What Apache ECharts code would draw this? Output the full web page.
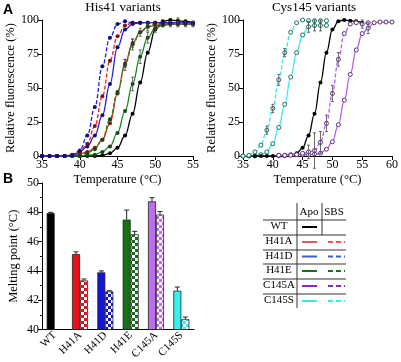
<!DOCTYPE html>
<html>
<head>
<meta charset="utf-8">
<script src="https://cdn.jsdelivr.net/npm/echarts@6/dist/echarts.min.js"></script>
<style>
  html, body { margin: 0; padding: 0; background: #fff; }
  #chart { width: 401px; height: 362px; }
</style>
</head>
<body>
<div id="chart"></div>
<script>
// temperatures (°C)
var tempsHis = [35, 36, 37, 38, 39, 40, 41, 42, 43, 44, 45, 46, 47, 48, 49, 50, 51, 52, 53, 54, 55];
var tempsCys = [35, 36, 37, 38, 39, 40, 41, 42, 43, 44, 45, 46, 47, 48, 49, 50, 51, 52, 53, 54, 55, 56, 57, 58, 59, 60];

// relative fluorescence (%) - His41 panel
var wtCurve = [0, 0, 0, 0, 0, 0, 0, 0, 0.5, 2, 6, 15, 31, 54, 76, 93, 99, 100, 99.5, 99, 98];
var h41aApo = [0, 0, 0, 0, 0.5, 1.5, 3, 6, 12, 24, 46, 68, 83, 91, 95, 96, 97, 97, 97, 97, 97];
var h41aSbs = [0, 0, 0, 0, 1, 3, 9, 22, 44, 70, 88, 96, 98, 98, 98, 98, 98, 98, 98, 98, 98];
var h41dApo = [0, 0, 0, 0, 0.5, 3, 7, 15, 30, 53, 80, 93, 97, 98, 98, 98, 98, 98, 98, 98, 98];
var h41dSbs = [0, 0, 0, 0, 0.5, 4, 15, 36, 66, 87, 97, 99, 98, 98, 98, 98, 98, 98, 98, 98, 98];
var h41eApo = [0, 0, 0, 0, 0, 0, 0.5, 1, 3, 7, 17, 33, 53, 73, 87, 94, 96, 97, 97, 97, 97];
var h41eSbs = [0, 0, 0, 0, 0, 0.5, 2, 5, 12, 27, 47, 67, 82, 91, 95, 97, 97, 97, 97, 97, 97];

// relative fluorescence (%) - Cys145 panel
var wtCurveCys = [0, 0, 0, 0, 0, 0, 0, 0, 0.5, 2, 6, 15, 31, 54, 76, 93, 99, 100, 99.5, 99, 98, null, null, null, null, null];
var c145aApo = [null, null, null, null, null, null, 0.5, 0.5, 1, 1, 1, 1, 1.5, 2, 5, 10.5, 23, 41, 60, 78, 90, 94, 98, 98.5, 98.5, 98.5];
var c145aSbs = [null, null, null, null, null, null, 0.5, 0.5, 0.5, 1, 2, 3, 4, 10, 24, 46, 71, 90, 97, 98, 97, 98, null, null, null, null];
var c145sApo = [0, 0, 0, 1, 3, 9, 21, 38, 58, 76, 89, 95, 96, 96, 96, null, null, null, null, null, null, null, null, null, null, null];
var c145sSbs = [0, 0.5, 3, 8, 19, 35, 56, 76, 91, 98, 100, 99.5, 99.5, 99.5, 99.5, null, null, null, null, null, null, null, null, null, null, null];

// error bars on the melting curves: [temperature, value, sd]
var errHis = [[46, 67, 4], [47, 82, 4], [48, 91, 3], [49, 95, 3], [47, 53, 5], [48, 73, 5], [49, 87, 4],
  [50, 94, 3], [46, 68, 3], [47, 83, 3], [52, 97, 2], [53, 97, 2], [54, 97, 2], [55, 97, 2], [53, 99.5, 2]];
var errCys = [[39, 19, 3], [40, 35, 3], [41, 56, 4], [42, 76, 3], [46, 95, 4], [47, 96, 4], [48, 96, 4],
  [46, 3, 5], [47, 4, 13], [48, 10, 8], [49, 24, 6], [50, 46, 6], [51, 71, 5], [55, 97, 3], [56, 94, 4]];

// melting points (°C)
var variants = ['WT', 'H41A', 'H41D', 'H41E', 'C145A', 'C145S'];
var tmApo = [47.95, 45.15, 43.9, 47.5, 48.75, 42.65];
var tmApoErr = [0.05, 0.15, 0.1, 0.65, 0.25, 0.25];
var tmSbs = [null, 43.35, 42.6, 46.5, 47.85, 40.7];
var tmSbsErr = [0, 0.1, 0.05, 0.2, 0.2, 0.15];

var barColors = ['#000000', '#e8111a', '#1414d6', '#137313', '#bd6eea', '#38f0f0'];
var serif = 'Liberation Serif';

function pair(xs, ys) {
  return xs.map(function (x, i) { return [x, ys[i]]; });
}

function checker(color) {
  var c = document.createElement('canvas');
  c.width = 6; c.height = 6;
  var ctx = c.getContext('2d');
  ctx.fillStyle = '#ffffff';
  ctx.fillRect(0, 0, 6, 6);
  ctx.fillStyle = color;
  ctx.fillRect(0, 0, 3, 3);
  ctx.fillRect(3, 3, 3, 3);
  return { image: c, repeat: 'repeat' };
}

function curve(grid, xs, ys, line, mark, dashed, hollow) {
  return {
    type: 'line',
    xAxisIndex: grid, yAxisIndex: grid,
    data: pair(xs, ys),
    smooth: 0.4,
    smoothMonotone: 'x',
    symbol: 'circle',
    symbolSize: 4,
    lineStyle: { color: line, width: 1.3, type: dashed ? [4, 2] : 'solid' },
    itemStyle: { color: hollow ? '#ffffff' : mark, borderColor: mark, borderWidth: hollow ? 1 : 0 },
    emphasis: { disabled: true },
    z: dashed ? 3 : 2
  };
}

// symmetric error bars on the fluorescence curves
function curveErr(grid, list) {
  return {
    type: 'custom', xAxisIndex: grid, yAxisIndex: grid, z: 4,
    data: list,
    renderItem: function (params, api) {
      var lo = api.coord([api.value(0), api.value(1) - api.value(2)]);
      var hi = api.coord([api.value(0), api.value(1) + api.value(2)]);
      var st = { stroke: '#444', lineWidth: 0.8 };
      return { type: 'group', children: [
        { type: 'line', shape: { x1: lo[0], y1: lo[1], x2: hi[0], y2: hi[1] }, style: st },
        { type: 'line', shape: { x1: lo[0] - 1.5, y1: lo[1], x2: lo[0] + 1.5, y2: lo[1] }, style: st },
        { type: 'line', shape: { x1: hi[0] - 1.5, y1: hi[1], x2: hi[0] + 1.5, y2: hi[1] }, style: st }
      ] };
    }
  };
}

function errBars(vals, errs, side) {
  var d = [];
  vals.forEach(function (v, i) { if (v != null) d.push([i, v, errs[i]]); });
  return {
    type: 'custom', xAxisIndex: 2, yAxisIndex: 2, z: 5,
    data: d,
    renderItem: function (params, api) {
      var b = api.coord([api.value(0), api.value(1)]);
      var t = api.coord([api.value(0), api.value(1) + api.value(2)]);
      var x = b[0] + side * 4;
      var st = { stroke: '#222', lineWidth: 1 };
      return { type: 'group', children: [
        { type: 'line', shape: { x1: x, y1: b[1], x2: x, y2: t[1] }, style: st },
        { type: 'line', shape: { x1: x - 2.5, y1: t[1], x2: x + 2.5, y2: t[1] }, style: st }
      ] };
    }
  };
}

function valAxis(grid, min, max, interval, name, gap) {
  return {
    type: 'value', gridIndex: grid, min: min, max: max, interval: interval,
    name: name, nameLocation: 'middle', nameGap: gap,
    nameTextStyle: { fontFamily: serif, fontSize: 12.5, color: '#000' },
    axisLine: { show: true, lineStyle: { color: '#000', width: 1 } },
    axisTick: { show: true, length: 4, lineStyle: { color: '#000' } },
    axisLabel: { fontFamily: serif, fontSize: 12, color: '#000', margin: 3 },
    splitLine: { show: false }
  };
}

// legend table
var rowY = [227, 242, 256.5, 271, 286, 301];
var legendColors = ['#000000', '#e8585a', '#3a5ae6', '#1a6e1a', '#8a2ab8', '#38e6ee'];
var gfx = [
  { type: 'text', left: 3, top: 3, style: { text: 'A', font: 'bold 14px Liberation Sans', fill: '#000' } },
  { type: 'text', left: 3, top: 172, style: { text: 'B', font: 'bold 14px Liberation Sans', fill: '#000' } },
  { type: 'text', x: 123, y: 1, style: { text: 'His41 variants', font: '13px ' + serif, fill: '#000', align: 'center' } },
  { type: 'text', x: 314, y: 1, style: { text: 'Cys145 variants', font: '13px ' + serif, fill: '#000', align: 'center' } },
  { type: 'text', x: 309, y: 207, style: { text: 'Apo', font: '11px ' + serif, fill: '#000', align: 'center' } },
  { type: 'text', x: 334, y: 207, style: { text: 'SBS', font: '11px ' + serif, fill: '#000', align: 'center' } },
  { type: 'line', shape: { x1: 297, y1: 203, x2: 297, y2: 308 }, style: { stroke: '#333', lineWidth: 1 } },
  { type: 'line', shape: { x1: 322, y1: 203, x2: 322, y2: 235 }, style: { stroke: '#333', lineWidth: 1 } }
];
[220, 235, 250, 264, 279, 294].forEach(function (y) {
  gfx.push({ type: 'line', shape: { x1: 263, y1: y, x2: 346, y2: y }, style: { stroke: '#333', lineWidth: 1 } });
});
variants.forEach(function (name, i) {
  var y = rowY[i];
  gfx.push({ type: 'text', x: 279, y: y - 6, style: { text: name, font: '11px ' + serif, fill: '#000', align: 'center' } });
  gfx.push({ type: 'line', shape: { x1: 302, y1: y, x2: 317, y2: y }, style: { stroke: legendColors[i], lineWidth: 2 } });
  if (tmSbs[i] != null) {
    gfx.push({ type: 'line', shape: { x1: 328, y1: y, x2: 345, y2: y }, style: { stroke: legendColors[i], lineWidth: 2, lineDash: [5, 3] } });
  }
});

var chart = echarts.init(document.getElementById('chart'));
chart.setOption({
  animation: false,
  backgroundColor: '#fff',
  grid: [
    { left: 42, top: 20, width: 151, height: 136 },
    { left: 243, top: 20, width: 151, height: 136 },
    { left: 42, top: 183, width: 152, height: 150 }
  ],
  xAxis: [
    valAxis(0, 35, 55, 5, 'Temperature (°C)', 17),
    valAxis(1, 35, 60, 5, 'Temperature (°C)', 17),
    {
      type: 'category', gridIndex: 2, data: variants,
      axisLine: { lineStyle: { color: '#000' } },
      axisTick: { show: false },
      axisLabel: { rotate: 45, interval: 0, fontFamily: serif, fontSize: 11, color: '#000', margin: 4 }
    }
  ],
  yAxis: [
    valAxis(0, 0, 100, 25, 'Relative fluorescence (%)', 25),
    valAxis(1, 0, 100, 25, 'Relative fluorescence (%)', 25),
    Object.assign(valAxis(2, 40, 50, 2, 'Melting point (°C)', 22), {
      minorTick: { show: true, splitNumber: 2, length: 2, lineStyle: { color: '#000' } }
    })
  ],
  graphic: gfx,
  series: [
    curve(0, tempsHis, wtCurve, '#000000', '#000000', false, false),
    curve(0, tempsHis, h41eApo, '#138a13', '#0e4a12', false, false),
    curve(0, tempsHis, h41eSbs, '#138a13', '#0e4a12', true, false),
    curve(0, tempsHis, h41aApo, '#ee1c24', '#7a1414', false, false),
    curve(0, tempsHis, h41aSbs, '#ee1c24', '#7a1414', true, false),
    curve(0, tempsHis, h41dApo, '#1e1ee0', '#10107a', false, false),
    curve(0, tempsHis, h41dSbs, '#1e1ee0', '#10107a', true, false),
    curveErr(0, errHis),

    curve(1, tempsCys, c145sApo, '#3ce8e8', '#1d6e62', false, true),
    curve(1, tempsCys, c145sSbs, '#3ce8e8', '#1d6e62', true, true),
    curve(1, tempsCys, wtCurveCys, '#000000', '#000000', false, false),
    curve(1, tempsCys, c145aApo, '#b65fe6', '#5a2c7c', false, true),
    curve(1, tempsCys, c145aSbs, '#b65fe6', '#5a2c7c', true, true),
    curveErr(1, errCys),

    {
      type: 'bar', xAxisIndex: 2, yAxisIndex: 2, barWidth: 8, barGap: '0%',
      data: tmApo.map(function (v, i) {
        return { value: v, itemStyle: { color: barColors[i] } };
      }),
      itemStyle: { borderColor: '#222', borderWidth: 0.8 }
    },
    {
      type: 'bar', xAxisIndex: 2, yAxisIndex: 2, barWidth: 8, barGap: '0%',
      data: tmSbs.map(function (v, i) {
        return { value: v == null ? '-' : v, itemStyle: { color: checker(barColors[i]) } };
      }),
      itemStyle: { borderColor: '#222', borderWidth: 0.8 }
    },
    errBars(tmApo, tmApoErr, -1),
    errBars(tmSbs, tmSbsErr, 1)
  ]
});
</script>
</body>
</html>
